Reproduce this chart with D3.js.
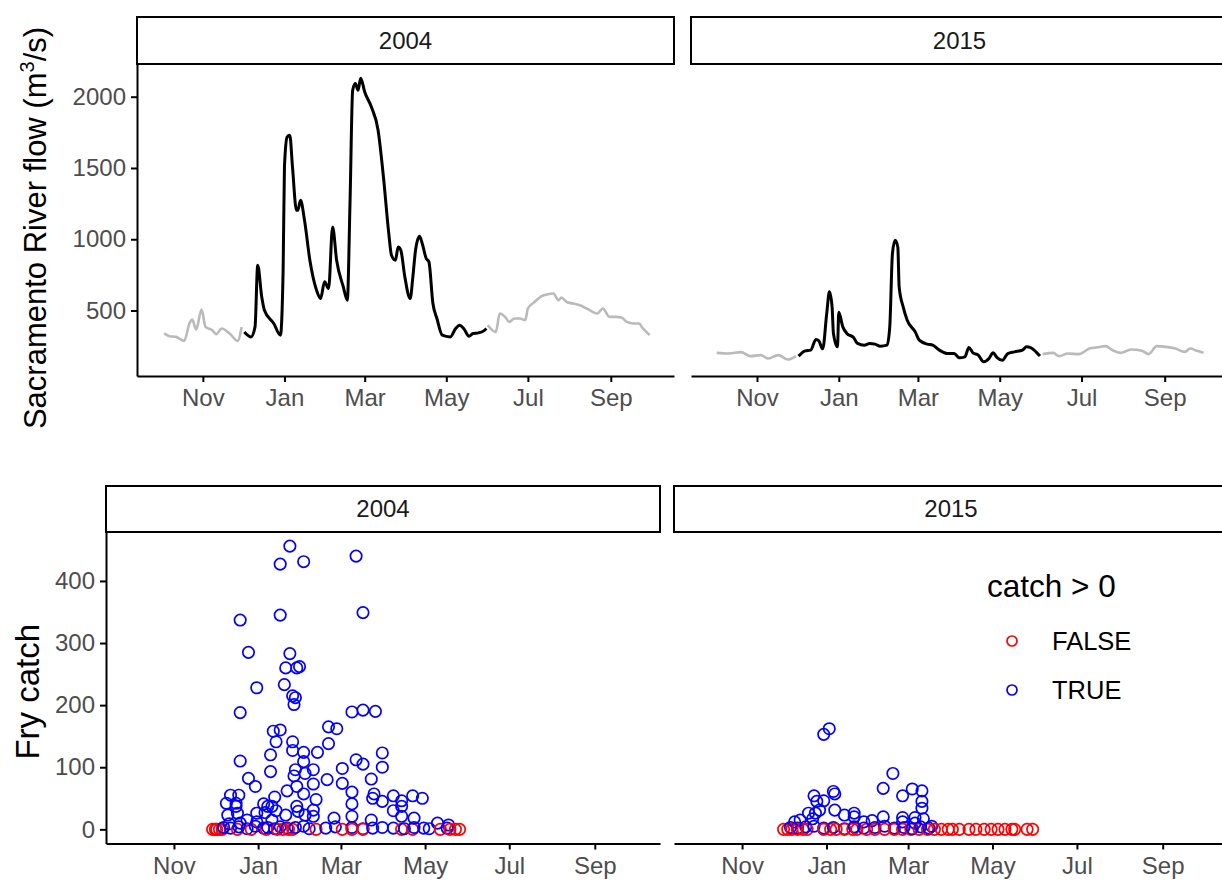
<!DOCTYPE html>
<html><head><meta charset="utf-8">
<script src="https://cdn.jsdelivr.net/npm/d3@7"></script>
<style>
body{margin:0;background:#fff}
svg{display:block;font-family:"Liberation Sans",Arial,Helvetica,sans-serif}
</style>
</head><body>
<svg id="chart" width="1222" height="883"></svg>
<script>
// ---------------- DATA ----------------
const years = ["2004", "2015"];
const waterYearStart = { "2004": [2003, 9, 1], "2015": [2014, 9, 1] }; // Oct 1
const waterYearEnd   = { "2004": [2004, 8, 30], "2015": [2015, 8, 30] }; // Sep 30
// sampling season (days after Oct 1): Dec 1 .. May 31
const seasonFirstDay = 61, seasonLastDay = 243;

// daily flow (m3/s), day = days after Oct 1
const flow2004Day = [2,6,11,17,21,23,26,30,33,38,41,45,51,57,60,
  62,67,70,72,75,77,84,89,91,92,94,96,98,101,102,104,107,111,116,119,122,125,128,131,136,139,141,143,145,147,149,152,157,162,166,170,172,175,177,179,182,186,188,190,193,195,198,200,203,206,210,216,220,223,226,230,233,237,241,243,
  244,250,253,257,260,264,268,272,274,279,284,289,293,297,299,303,308,313,318,326,330,335,340,344,348,353,357,360,365];
const flow2004Val = [339,320,315,287,409,437,367,507,385,362,334,374,339,287,385,
  350,315,385,818,596,502,409,327,783,1507,1717,1729,1507,1203,1203,1274,1133,853,642,584,701,654,1086,853,666,572,1250,2045,2092,2045,2130,2033,1928,1764,1437,1040,888,853,946,923,736,584,736,923,1021,970,865,841,549,444,327,315,374,397,374,320,339,343,357,374,
  397,350,479,455,420,444,444,432,514,560,600,614,619,572,591,560,549,537,514,479,514,455,455,451,420,409,409,374,327];

const flow2015Day = [1,10,19,26,34,39,47,54,60,
  62,67,71,75,77,80,83,85,87,88,91,92,95,98,103,106,111,115,119,123,128,130,132,134,136,137,140,143,149,152,158,162,167,173,178,182,186,189,192,196,200,204,207,210,214,218,223,229,232,235,239,242,
  244,252,256,263,271,279,284,291,296,302,310,318,323,329,336,343,350,354,359,364];
const flow2015Val = [203,198,208,180,187,163,187,156,180,
  180,217,222,297,289,231,479,631,525,339,245,488,385,339,311,269,257,269,264,250,257,385,900,993,946,666,525,432,350,292,264,257,222,198,198,168,175,240,203,187,140,163,203,170,151,198,210,222,245,240,210,180,
  194,203,180,198,194,233,240,250,222,203,226,217,194,250,245,233,210,233,217,203];

// fry catch per sampling day
const catch2004Day = [115,108,125,108,79,85,115,112,120,122,91,111,117,119,118,79,103,108,105,117,117,101,79,125,101,119,85,90,125,118,126,113,120,125,72,78,69,76,104,70,77,76,96,99,102,105,97,112,120,121,126,91,84,91,102,71,79,
  163,168,160,168,177,143,149,143,182,135,163,168,182,153,132,174,142,153,132,160,134,160,176,175,182,190,196,196,190,204,211,196,205,160,174,132,132,147,222,230,
  67,72,78,84,90,96,99,104,108,113,119,125,129,141,148,160,168,175,182,190,198,205,212,216,229,
  59,61,62,64,66,77,87,98,106,110,114,117,134,153,160,168,196,204,224,231,235,238];
const catch2004Val = [456,427,431,345,337,285,283,260,260,262,228,233,215,212,201,188,158,160,141,141,127,120,110,124,93,96,82,69,109,86,90,62,69,57,55,55,42,42,52,23,26,37,41,37,37,30,27,23,37,29,23,26,15,12,15,9,10,
  440,349,189,192,190,165,162,138,123,124,112,105,100,98,96,81,80,74,73,60,48,41,57,50,45,54,46,37,30,54,50,21,18,21,15,31,21,18,10,7,
  3,2,4,1,5,2,3,1,4,2,3,5,1,2,4,3,1,2,3,2,1,3,2,1,2,
  0,0,0,0,0,0,0,0,0,0,0,0,0,0,0,0,0,0,0,0,0,0];

const catch2015Day = [90,94,140,133,154,161,147,83,97,98,85,90,161,161,79,87,98,105,112,112,133,147,156,162,69,73,82,84,119,125,147,156,168,
  66,71,77,83,90,97,105,112,119,127,134,141,148,154,160,166,
  61,64,67,71,75,78,90,95,99,105,111,114,121,127,134,141,147,153,159,165,170,175,180,183,188,195,200,206,211,216,221,226,228,237,241];
const catch2015Val = [153,162,90,66,65,62,54,54,61,57,45,46,45,34,26,31,31,23,26,20,20,19,19,17,12,15,17,26,12,14,12,10,5,
  3,2,4,5,2,3,1,4,2,3,5,2,3,1,4,2,
  0,0,0,0,0,0,0,0,0,0,0,0,0,0,0,0,0,0,0,0,0,0,0,0,0,0,0,0,0,0,0,0,0,0,0];

const flowTicks = [500, 1000, 1500, 2000];
const catchTicks = [0, 100, 200, 300, 400];
const legendTitle = "catch > 0";
const legendLabels = ["FALSE", "TRUE"];
const catchColors = { "FALSE": "#FF0000", "TRUE": "#0000FF" };
const flowColors = { season: "#000000", off: "#BABABA" };

// ---------------- LAYOUT ----------------
const svg = d3.select("#chart");
const topRow = { y0: 64, y1: 376, strip0: 17, xs: [[137, 674], [691, 1228]] };
const botRow = { y0: 532, y1: 843.5, strip0: 486, xs: [[106, 660], [674, 1228]] };
const tickFont = 24, titleFont = 31;

function dayToDate(year, d) {
  const s = waterYearStart[year];
  return d3.timeDay.offset(new Date(s[0], s[1], s[2]), d);
}
function xScaleFor(year, range) {
  const s = new Date(...waterYearStart[year]);
  const e = new Date(...waterYearEnd[year]);
  const span = e - s;
  return d3.scaleTime().domain([new Date(+s - span * 0.05), new Date(+e + span * 0.05)]).range(range);
}
function expanded(lo, hi) { const p = (hi - lo) * 0.05; return [lo - p, hi + p]; }

const flows = {
  "2004": flow2004Day.map((d, i) => ({ day: d, date: dayToDate("2004", d), v: flow2004Val[i] })),
  "2015": flow2015Day.map((d, i) => ({ day: d, date: dayToDate("2015", d), v: flow2015Val[i] }))
};
const catches = {
  "2004": catch2004Day.map((d, i) => ({ day: d, date: dayToDate("2004", d), v: catch2004Val[i] })).sort((a, b) => a.day - b.day),
  "2015": catch2015Day.map((d, i) => ({ day: d, date: dayToDate("2015", d), v: catch2015Val[i] })).sort((a, b) => a.day - b.day)
};

const allFlow = flow2004Val.concat(flow2015Val);
const yFlow = d3.scaleLinear().domain(expanded(d3.min(allFlow), d3.max(allFlow))).range([topRow.y1, topRow.y0]);
const allCatch = catch2004Val.concat(catch2015Val);
const yCatch = d3.scaleLinear().domain(expanded(d3.min(allCatch), d3.max(allCatch))).range([botRow.y1, botRow.y0]);

function strip(row, xr, label) {
  const h = row.y0 - row.strip0;
  svg.append("rect").attr("x", xr[0]).attr("y", row.strip0).attr("width", xr[1] - xr[0]).attr("height", h)
    .attr("fill", "#fff").attr("stroke", "#000").attr("stroke-width", 2);
  svg.append("text").attr("x", (xr[0] + xr[1]) / 2).attr("y", row.strip0 + h / 2).attr("dy", "0.35em")
    .attr("text-anchor", "middle").attr("font-size", tickFont).attr("fill", "#1A1A1A").text(label);
}

function styleAxis(g) {
  g.selectAll(".domain").attr("stroke", "#000").attr("stroke-width", 2);
  g.selectAll(".tick line").attr("stroke", "#000").attr("stroke-width", 2);
  g.selectAll(".tick text").attr("fill", "#4D4D4D").attr("font-size", tickFont)
    .attr("font-family", '"Liberation Sans",Arial,sans-serif');
}

function xAxis(x, row) {
  const d = x.domain();
  const ticks = d3.timeMonth.every(2).range(d[0], d[1]);
  const g = svg.append("g").attr("transform", `translate(0,${row.y1})`)
    .call(d3.axisBottom(x).tickValues(ticks).tickFormat(d3.timeFormat("%b")).tickSize(6).tickSizeOuter(0).tickPadding(7));
  styleAxis(g);
}
function yAxis(y, xPos, ticks) {
  const g = svg.append("g").attr("transform", `translate(${xPos},0)`)
    .call(d3.axisLeft(y).tickValues(ticks).tickFormat(d3.format("d")).tickSize(6).tickSizeOuter(0).tickPadding(5));
  styleAxis(g);
}

// ---------------- TOP: FLOW ----------------
years.forEach((yr, i) => {
  const xr = topRow.xs[i];
  const x = xScaleFor(yr, xr);
  strip(topRow, xr, yr);
  const pts = flows[yr];
  const segs = [
    pts.filter(p => p.day < seasonFirstDay),
    pts.filter(p => p.day >= seasonFirstDay && p.day <= seasonLastDay),
    pts.filter(p => p.day > seasonLastDay)
  ];
  const line = d3.line().x(p => x(p.date)).y(p => yFlow(p.v)).curve(d3.curveMonotoneX);
  segs.forEach((s, k) => {
    svg.append("path").attr("d", line(s)).attr("fill", "none")
      .attr("stroke", k === 1 ? flowColors.season : flowColors.off)
      .attr("stroke-width", k === 1 ? 3 : 2.6).attr("stroke-linejoin", "round");
  });
  xAxis(x, topRow);
  if (i === 0) yAxis(yFlow, xr[0], flowTicks);
});

// ---------------- BOTTOM: CATCH ----------------
years.forEach((yr, i) => {
  const xr = botRow.xs[i];
  const x = xScaleFor(yr, xr);
  strip(botRow, xr, yr);
  svg.append("g").selectAll("circle").data(catches[yr]).join("circle")
    .attr("cx", p => x(p.date)).attr("cy", p => yCatch(p.v)).attr("r", 5.7)
    .attr("fill", "none").attr("stroke-width", 1.7)
    .attr("stroke", p => catchColors[p.v > 0 ? "TRUE" : "FALSE"]);
  xAxis(x, botRow);
  if (i === 0) yAxis(yCatch, xr[0], catchTicks);
});

// ---------------- TITLES ----------------
const t1 = svg.append("text").attr("transform", `translate(46,${(topRow.y0 + topRow.y1) / 2 + 8}) rotate(-90)`)
  .attr("text-anchor", "middle").attr("font-size", titleFont).attr("fill", "#000");
t1.append("tspan").text("Sacramento River flow (m");
t1.append("tspan").attr("font-size", 20).attr("dy", -12).text("3");
t1.append("tspan").attr("dy", 12).text("/s)");

svg.append("text").attr("transform", `translate(39,${(botRow.y0 + botRow.y1) / 2 + 4}) rotate(-90)`)
  .attr("text-anchor", "middle").attr("font-size", 33).attr("fill", "#000").text("Fry catch");

// ---------------- LEGEND ----------------
const lg = svg.append("g").attr("transform", "translate(987,0)");
lg.append("text").attr("x", 0).attr("y", 597).attr("font-size", 31.5).attr("fill", "#000").text(legendTitle);
legendLabels.forEach((lab, k) => {
  const cy = 641 + k * 49;
  lg.append("circle").attr("cx", 25).attr("cy", cy).attr("r", 5).attr("fill", "none")
    .attr("stroke", catchColors[lab]).attr("stroke-width", 1.7);
  lg.append("text").attr("x", 65).attr("y", cy).attr("dy", "0.36em").attr("font-size", 25.5)
    .attr("fill", "#000").text(lab);
});
</script>
</body></html>
